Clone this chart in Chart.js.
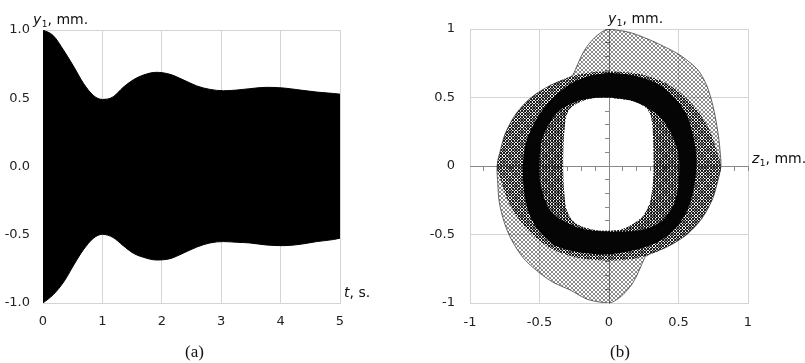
<!DOCTYPE html>
<html>
<head>
<meta charset="utf-8">
<script src="https://cdn.jsdelivr.net/npm/chart.js@4.4.0/dist/chart.umd.min.js"></script>
<style>
  html, body { margin: 0; padding: 0; background: #fff; }
  #wrap { position: relative; width: 805px; height: 363px; }
  #chartA { position: absolute; left: 0; top: 0; }
  #chartB { position: absolute; left: 420px; top: 0; }
</style>
</head>
<body>
<div id="wrap">
  <canvas id="chartA" width="400" height="363"></canvas>
  <canvas id="chartB" width="385" height="363"></canvas>
</div>
<script>
// ---- panel (a): envelope of y1(t) ----
const timeS   = [0, 0.17, 0.35, 0.52, 0.68, 0.85, 1.0, 1.18, 1.35, 1.52, 1.69, 1.91, 2.14, 2.36, 2.59, 2.81, 3.04, 3.26, 3.48, 3.76, 4.05, 4.33, 4.61, 4.89, 5.0];
const upperMm = [1.0, 0.96, 0.85, 0.73, 0.61, 0.52, 0.49, 0.51, 0.58, 0.635, 0.67, 0.69, 0.675, 0.635, 0.59, 0.565, 0.555, 0.56, 0.57, 0.58, 0.575, 0.56, 0.545, 0.535, 0.53];
const lowerMm = [-1.0, -0.94, -0.845, -0.72, -0.61, -0.525, -0.497, -0.52, -0.58, -0.635, -0.665, -0.685, -0.675, -0.635, -0.59, -0.56, -0.55, -0.555, -0.56, -0.575, -0.58, -0.57, -0.55, -0.535, -0.525];
const tTicks  = [0, 1, 2, 3, 4, 5];
const yTicksA = [-1, -0.5, 0, 0.5, 1];

// ---- panel (b): orbit z1-y1, outlines of the drawn regions [z, y] ----
const orbitOutline = [
  [0, 1], [0.15, 0.975], [0.295, 0.92], [0.42, 0.86], [0.51, 0.81], [0.6, 0.74], [0.655, 0.68], [0.71, 0.57],
  [0.75, 0.43], [0.775, 0.3], [0.79, 0.2], [0.8, 0.1], [0.805, 0],
  [0.78, -0.12], [0.745, -0.24], [0.67, -0.38], [0.56, -0.5], [0.42, -0.59], [0.27, -0.655],
  [0.235, -0.72], [0.2, -0.8], [0.16, -0.87], [0.1, -0.94], [0.04, -0.985], [0, -1],
  [-0.15, -0.975], [-0.28, -0.905], [-0.4, -0.85], [-0.5, -0.78], [-0.6, -0.69], [-0.66, -0.61], [-0.72, -0.5],
  [-0.76, -0.39], [-0.79, -0.26], [-0.8, -0.13], [-0.805, 0],
  [-0.78, 0.12], [-0.745, 0.24], [-0.67, 0.38], [-0.56, 0.5], [-0.42, 0.59], [-0.27, 0.655],
  [-0.235, 0.72], [-0.2, 0.8], [-0.16, 0.87], [-0.1, 0.94], [-0.04, 0.985], [0, 1]
];
const ringOuter = [
  [0, 0.69], [0.12, 0.685], [0.25, 0.665], [0.4, 0.61], [0.53, 0.52], [0.64, 0.4], [0.72, 0.27], [0.77, 0.13], [0.805, 0],
  [0.78, -0.12], [0.745, -0.24], [0.67, -0.38], [0.56, -0.5], [0.42, -0.59], [0.27, -0.655], [0.12, -0.685], [0, -0.69],
  [-0.12, -0.685], [-0.25, -0.665], [-0.4, -0.61], [-0.53, -0.52], [-0.64, -0.4], [-0.72, -0.27], [-0.77, -0.13], [-0.805, 0],
  [-0.78, 0.12], [-0.745, 0.24], [-0.67, 0.38], [-0.56, 0.5], [-0.42, 0.59], [-0.27, 0.655], [-0.12, 0.685]
];
const darkOuter = [
  [0, 0.68], [0.18, 0.66], [0.35, 0.6], [0.47, 0.5], [0.56, 0.37], [0.61, 0.2], [0.63, 0.05], [0.62, -0.1],
  [0.59, -0.25], [0.54, -0.37], [0.46, -0.47], [0.36, -0.55], [0.2, -0.61], [0, -0.645], [-0.18, -0.635],
  [-0.37, -0.59], [-0.47, -0.51], [-0.54, -0.42], [-0.59, -0.3], [-0.615, -0.15], [-0.62, 0], [-0.6, 0.16],
  [-0.55, 0.29], [-0.47, 0.42], [-0.38, 0.52], [-0.26, 0.61], [-0.13, 0.66]
];
const darkInner = [
  [0, 0.5], [0.17, 0.475], [0.3, 0.41], [0.39, 0.33], [0.46, 0.21], [0.5, 0.08], [0.505, -0.05], [0.49, -0.2],
  [0.45, -0.31], [0.37, -0.41], [0.24, -0.465], [0.08, -0.48], [-0.08, -0.475], [-0.22, -0.45], [-0.33, -0.4],
  [-0.42, -0.33], [-0.47, -0.22], [-0.5, -0.08], [-0.5, 0.05], [-0.48, 0.2], [-0.43, 0.31], [-0.36, 0.4],
  [-0.24, 0.47], [-0.12, 0.495]
];
const orbitHole = [
  [0, 0.5], [0.17, 0.475], [0.26, 0.43], [0.3, 0.37], [0.315, 0.25], [0.32, 0.1], [0.32, -0.05], [0.31, -0.18],
  [0.29, -0.28], [0.24, -0.37], [0.16, -0.43], [0.08, -0.465], [-0.08, -0.47], [-0.2, -0.44], [-0.27, -0.39],
  [-0.31, -0.3], [-0.325, -0.15], [-0.33, 0], [-0.325, 0.2], [-0.31, 0.35], [-0.28, 0.42], [-0.2, 0.47],
  [-0.12, 0.495]
];
const zTicksB = [-1, -0.5, 0, 0.5, 1];
const yTicksB = [-1, -0.5, 0, 0.5, 1];
const axisMarks = [-1, -0.9, -0.8, -0.7, -0.6, -0.5, -0.4, -0.3, -0.2, -0.1, 0, 0.1, 0.2, 0.3, 0.4, 0.5, 0.6, 0.7, 0.8, 0.9, 1];

const GRID = '#d4d4d4';
const TICK_FONT = { family: 'DejaVu Sans', size: 13 };
const CURVE_TENSION = 0.3;

const toPts = arr => arr.map(([x, y]) => ({ x, y }));

// outer loop, then inner loop the other way round: nonzero fill leaves the inner part empty.
// the doubled joint points keep the spline straight along the cut so both passes overlap
function keyhole(outer, inner) {
  const o = toPts(outer);
  const i = toPts(inner);
  return [...o, o[0], o[0], i[0], i[0], ...i.slice(1).reverse(), i[0], i[0]];
}

// thin line texture to imitate the many overlapping orbit curves
function hatch(step, color, dirs) {
  const c = document.createElement('canvas');
  c.width = step;
  c.height = step;
  const g = c.getContext('2d');
  g.strokeStyle = color;
  g.lineWidth = 1;
  g.beginPath();
  for (const o of [-step, 0, step]) {
    if (dirs.includes('/')) { g.moveTo(o - 1, step + 1); g.lineTo(o + step + 1, -1); }
    if (dirs.includes('\\')) { g.moveTo(o - 1, -1); g.lineTo(o + step + 1, step + 1); }
  }
  if (dirs.includes('|')) { g.moveTo(0.5, 0); g.lineTo(0.5, step); }
  g.stroke();
  return g.createPattern(c, 'repeat');
}

function setTicks(values) {
  return scale => { scale.ticks = values.map(v => ({ value: v })); };
}

// "y1, mm." style caption with a subscript
function drawSubLabel(ctx, x, y, letter, tail) {
  ctx.save();
  ctx.fillStyle = '#111';
  ctx.textAlign = 'left';
  ctx.textBaseline = 'alphabetic';
  ctx.font = 'italic 14px "DejaVu Sans"';
  ctx.fillText(letter, x, y);
  let w = ctx.measureText(letter).width + 0.5;
  ctx.font = '9px "DejaVu Sans"';
  ctx.fillText('1', x + w, y + 3);
  w += ctx.measureText('1').width;
  ctx.font = '14px "DejaVu Sans"';
  ctx.fillText(tail, x + w, y);
  ctx.restore();
}

function drawCaption(ctx, x, y, text) {
  ctx.save();
  ctx.fillStyle = '#111';
  ctx.textAlign = 'center';
  ctx.textBaseline = 'alphabetic';
  ctx.font = '17px "Liberation Serif"';
  ctx.fillText(text, x, y);
  ctx.restore();
}

const labelsA = {
  id: 'labelsA',
  afterDraw(chart) {
    const { ctx, chartArea } = chart;
    drawSubLabel(ctx, chartArea.left - 10, chartArea.top - 6, 'y', ', mm.');
    ctx.save();
    ctx.fillStyle = '#111';
    ctx.font = 'italic 14px "DejaVu Sans"';
    ctx.fillText('t', chartArea.right + 4, chartArea.bottom - 6);
    const w = ctx.measureText('t').width;
    ctx.font = '14px "DejaVu Sans"';
    ctx.fillText(', s.', chartArea.right + 4 + w, chartArea.bottom - 6);
    ctx.restore();
    drawCaption(ctx, (chartArea.left + chartArea.right) / 2 + 3, 357, '(a)');
  }
};

const labelsB = {
  id: 'labelsB',
  afterDraw(chart) {
    const { ctx, chartArea, scales } = chart;
    const x0 = scales.x.getPixelForValue(0);
    const y0 = scales.y.getPixelForValue(0);
    drawSubLabel(ctx, x0 - 1, chartArea.top - 6, 'y', ', mm.');
    drawSubLabel(ctx, chartArea.right + 4, y0 - 3, 'z', ', mm.');
    drawCaption(ctx, x0 + 11, 357, '(b)');
  }
};

const common = {
  responsive: false,
  animation: false,
  events: [],
  plugins: { legend: { display: false }, tooltip: { enabled: false } },
  elements: { point: { radius: 0 } }
};

new Chart(document.getElementById('chartA'), {
  type: 'line',
  data: {
    datasets: [
      {
        data: timeS.map((t, i) => ({ x: t, y: upperMm[i] })),
        borderColor: '#000',
        backgroundColor: '#000',
        borderWidth: 1,
        cubicInterpolationMode: 'monotone',
        fill: '+1'
      },
      {
        data: timeS.map((t, i) => ({ x: t, y: lowerMm[i] })),
        borderColor: '#000',
        borderWidth: 1,
        cubicInterpolationMode: 'monotone',
        fill: false
      }
    ]
  },
  options: {
    ...common,
    layout: { padding: { left: 0, top: 30, right: 60, bottom: 20 } },
    scales: {
      x: {
        type: 'linear', min: 0, max: 5,
        afterBuildTicks: setTicks(tTicks),
        afterFit: s => { s.height = 40; },
        grid: { color: GRID, drawTicks: false },
        border: { color: GRID },
        ticks: { font: TICK_FONT, color: '#222', padding: 11 }
      },
      y: {
        type: 'linear', min: -1, max: 1,
        afterBuildTicks: setTicks(yTicksA),
        afterFit: s => { s.width = 43; },
        grid: { color: GRID, drawTicks: false },
        border: { color: GRID },
        ticks: { font: TICK_FONT, color: '#222', padding: 13, callback: v => v.toFixed(1) }
      }
    }
  },
  plugins: [labelsA]
});

const noLine = 'rgba(0,0,0,0)';

new Chart(document.getElementById('chartB'), {
  type: 'line',
  data: {
    datasets: [
      { // thin edge of the outermost orbits
        data: toPts(orbitOutline),
        borderColor: 'rgba(40,40,40,0.85)', borderWidth: 0.8, fill: false, order: 1
      },
      { // densest band
        data: keyhole(darkOuter, darkInner),
        borderColor: noLine, backgroundColor: 'rgba(5,5,5,1)', fill: 'shape', order: 2
      },
      { // inner crescents
        data: keyhole(darkInner, orbitHole),
        borderColor: noLine, backgroundColor: hatch(3, 'rgba(0,0,0,0.45)', '|'), fill: 'shape', order: 3
      },
      { // outer cross-hatched ring
        data: keyhole(ringOuter, orbitHole),
        borderColor: noLine, backgroundColor: hatch(3, 'rgba(0,0,0,0.85)', '/\\'), fill: 'shape', order: 4
      },
      { // light lobes
        data: keyhole(orbitOutline.slice(0, -1), orbitHole),
        borderColor: noLine, backgroundColor: hatch(4, 'rgba(0,0,0,0.45)', '/\\'), fill: 'shape', order: 5
      }
    ]
  },
  options: {
    ...common,
    elements: { point: { radius: 0 }, line: { tension: CURVE_TENSION } },
    layout: { padding: { left: 0, top: 29, right: 57, bottom: 20 } },
    scales: {
      x: {
        type: 'linear', min: -1, max: 1, position: 'bottom',
        afterBuildTicks: setTicks(zTicksB),
        afterFit: s => { s.height = 40; },
        grid: { color: GRID, drawTicks: false },
        border: { color: GRID },
        ticks: { font: TICK_FONT, color: '#222', padding: 12, callback: v => String(v) }
      },
      y: {
        type: 'linear', min: -1, max: 1, position: 'left',
        afterBuildTicks: setTicks(yTicksB),
        afterFit: s => { s.width = 50; },
        grid: { color: GRID, drawTicks: false },
        border: { color: GRID },
        ticks: { font: TICK_FONT, color: '#222', padding: 15, callback: v => String(v) }
      },
      xc: {
        type: 'linear', axis: 'x', min: -1, max: 1, position: { y: 0 },
        afterBuildTicks: setTicks(axisMarks),
        grid: { drawOnChartArea: false, drawTicks: true, tickLength: 4, color: '#8a8a8a' },
        border: { color: '#8a8a8a' },
        ticks: { display: false }
      },
      yc: {
        type: 'linear', axis: 'y', min: -1, max: 1, position: { x: 0 },
        afterBuildTicks: setTicks(axisMarks),
        grid: { drawOnChartArea: false, drawTicks: true, tickLength: 4, color: '#8a8a8a' },
        border: { color: '#8a8a8a' },
        ticks: { display: false }
      }
    }
  },
  plugins: [labelsB]
});
</script>
</body>
</html>
